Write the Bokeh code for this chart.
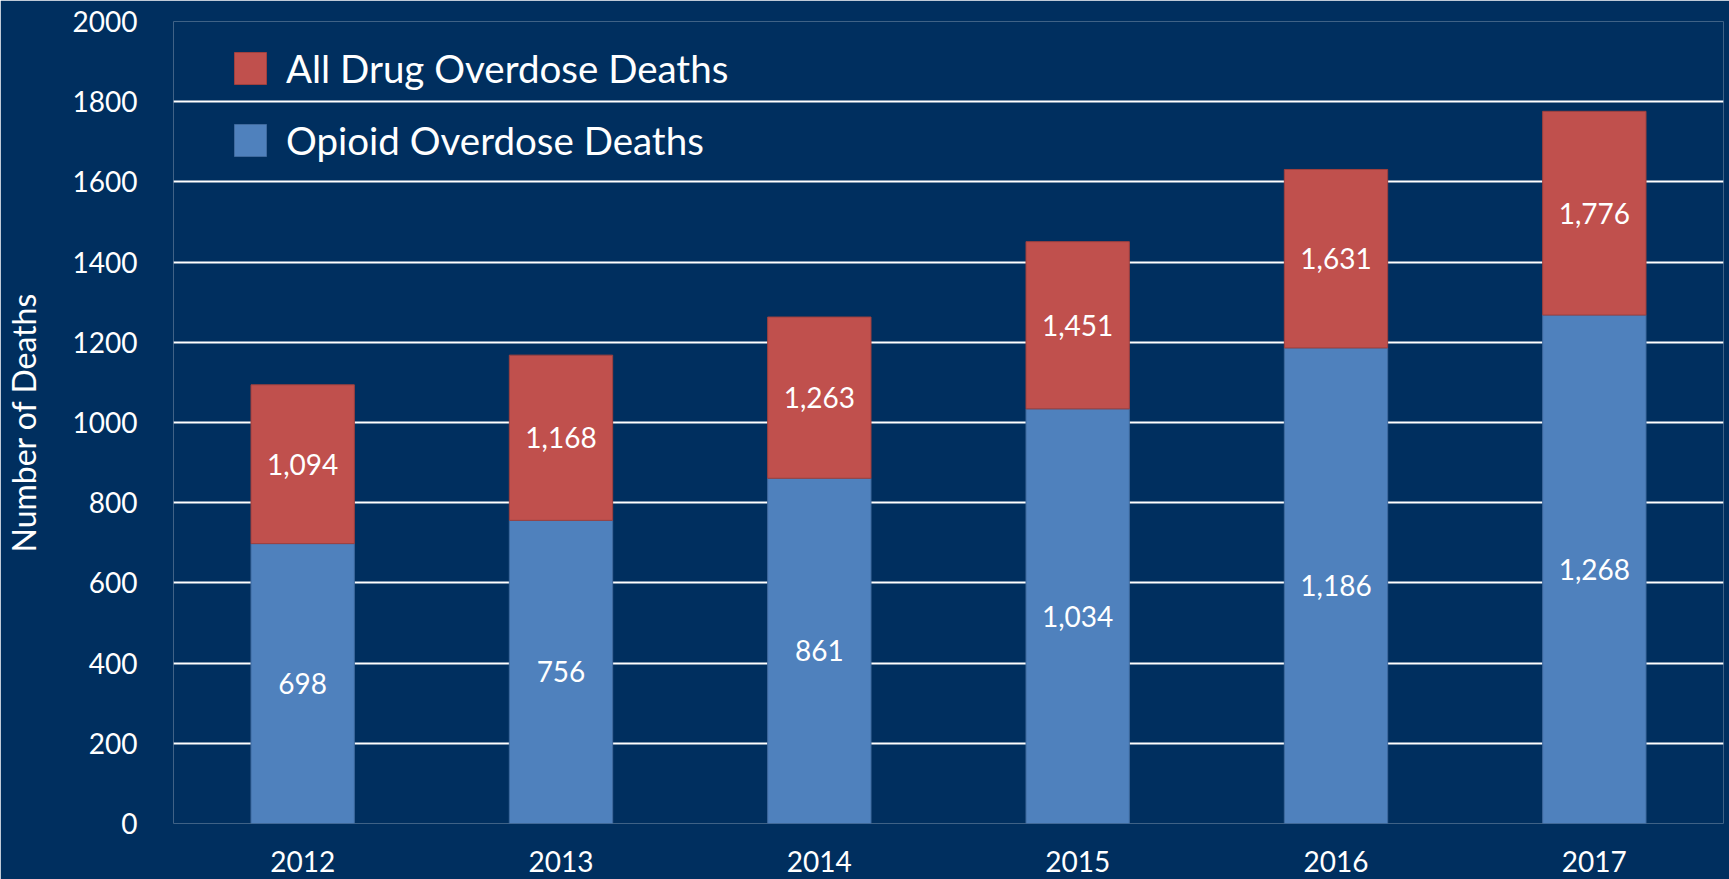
from bokeh.plotting import figure
from bokeh.models import ColumnDataSource, LabelSet, Legend, LegendItem, SingleIntervalTicker
from bokeh.core.properties import value
from bokeh.embed import file_html
from bokeh.resources import INLINE

years = ["2012", "2013", "2014", "2015", "2016", "2017"]
opioid = [698, 756, 861, 1034, 1186, 1268]
all_drug = [1094, 1168, 1263, 1451, 1631, 1776]

BG = "#002F5F"
BLUE = "#4F81BD"
RED = "#C0504D"
FONT = "Lato"

src = ColumnDataSource(dict(
    year=years,
    opioid=opioid,
    all_drug=all_drug,
    zero=[0] * len(years),
    mid_op=[v / 2 for v in opioid],
    mid_all=[(a + o) / 2 for a, o in zip(all_drug, opioid)],
    lab_op=[f"{v:,}" for v in opioid],
    lab_all=[f"{v:,}" for v in all_drug],
))

p = figure(x_range=years, y_range=(0, 2000), width=1729, height=879,
           output_backend="svg", toolbar_location=None,
           background_fill_color=BG, border_fill_color=BG, outline_line_color=None,
           min_border_left=168, min_border_right=6, min_border_top=21, min_border_bottom=56)

blue_r = p.vbar(x="year", bottom="zero", top="opioid", width=0.4, source=src,
                fill_color=BLUE, line_color="#3F6A9E", line_width=1)
red_r = p.vbar(x="year", bottom="opioid", top="all_drug", width=0.4, source=src,
               fill_color=RED, line_color="#9E403E", line_width=1)

for ycol, tcol in (("mid_op", "lab_op"), ("mid_all", "lab_all")):
    p.add_layout(LabelSet(x="year", y=ycol, text=tcol, source=src,
                          text_align="center", text_baseline="middle",
                          text_color="white", text_font=value(FONT),
                          text_font_size="28px"))

p.yaxis.ticker = SingleIntervalTicker(interval=200)
p.ygrid.ticker = SingleIntervalTicker(interval=200)
p.ygrid.grid_line_color = "white"
p.ygrid.grid_line_width = 2
p.xgrid.grid_line_color = None

for ax in (p.xaxis, p.yaxis):
    ax.axis_line_color = None
    ax.major_tick_line_color = None
    ax.minor_tick_line_color = None
    ax.major_label_text_color = "white"
    ax.major_label_text_font = FONT
    ax.major_label_text_font_size = "28px"

p.yaxis.major_label_standoff = 30
p.xaxis.major_label_standoff = 21
p.yaxis.axis_label = "Number of Deaths"
p.yaxis.axis_label_text_color = "white"
p.yaxis.axis_label_text_font = FONT
p.yaxis.axis_label_text_font_size = "32px"
p.yaxis.axis_label_text_font_style = "normal"
p.yaxis.axis_label_standoff = 27

legend = Legend(items=[LegendItem(label="All Drug Overdose Deaths", renderers=[red_r]),
                       LegendItem(label="Opioid Overdose Deaths", renderers=[blue_r])],
                location=(57, 660), orientation="vertical",
                glyph_width=40, glyph_height=40, label_height=46, spacing=26,
                label_standoff=16, padding=0, margin=0,
                label_text_color="white", label_text_font=FONT, label_text_font_size="38.5px",
                background_fill_alpha=0, border_line_color=None)
p.add_layout(legend)

open("out.html", "w").write(file_html(p, INLINE))
